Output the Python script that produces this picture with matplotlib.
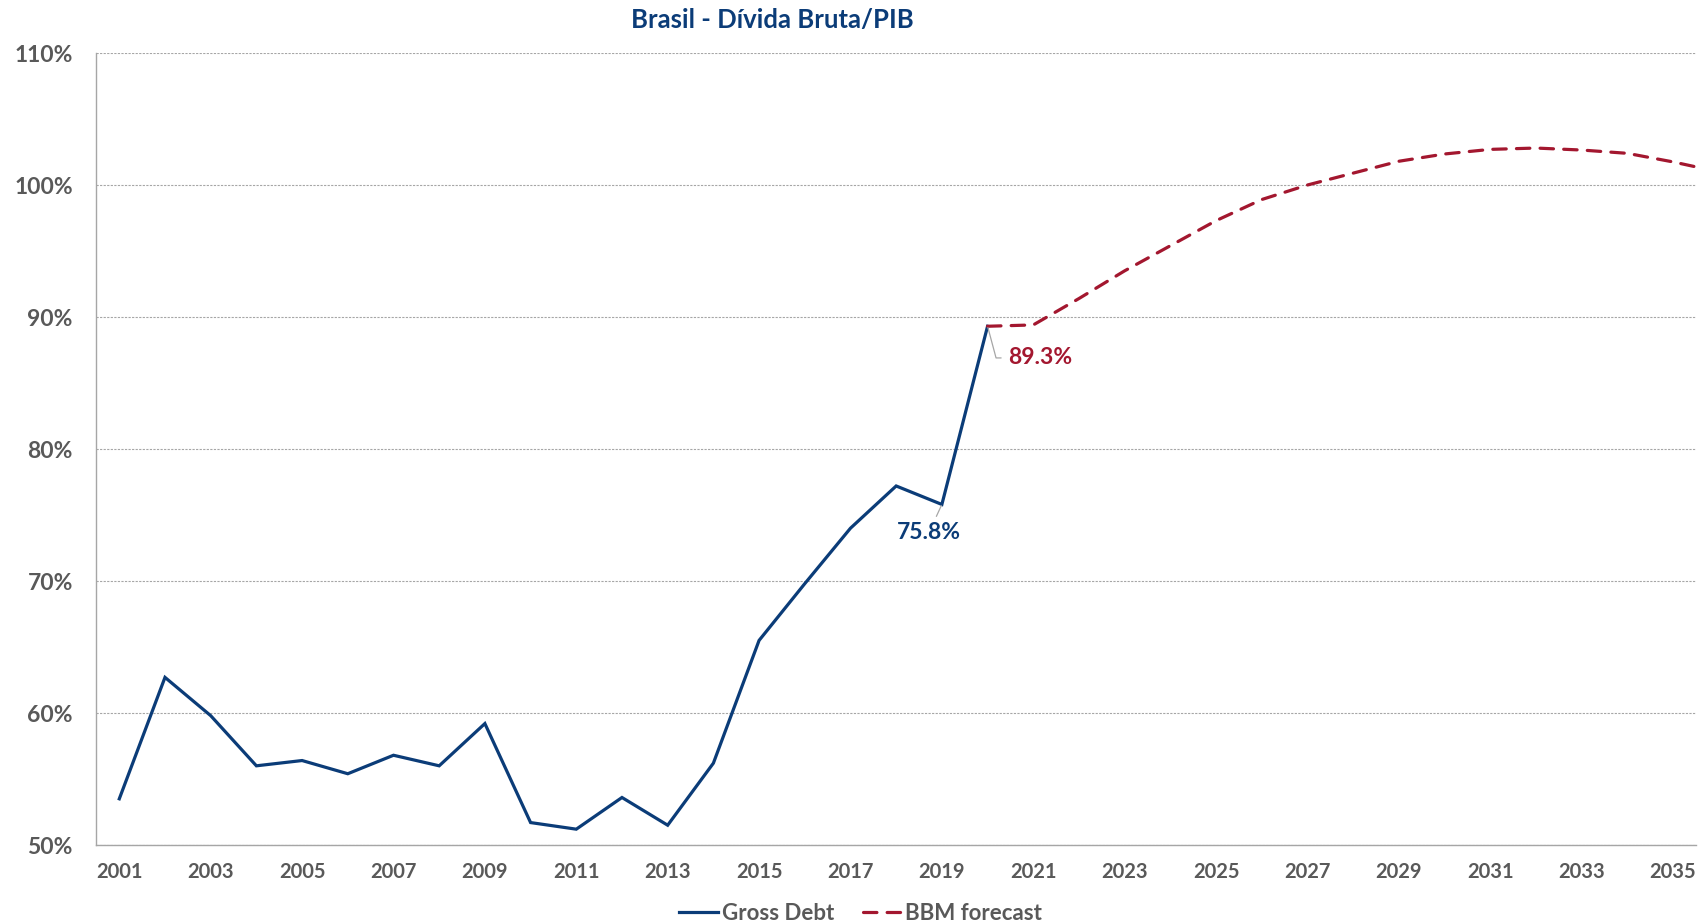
import matplotlib
matplotlib.use("Agg")
import matplotlib.pyplot as plt
from matplotlib.ticker import FuncFormatter

plt.rcParams['font.family'] = ['Lato', 'DejaVu Sans']

# ---- data ----
hist_years = list(range(2001, 2021))
gross_debt = [53.5, 62.7, 59.8, 56.0, 56.4, 55.4, 56.8, 56.0, 59.2, 51.7,
              51.2, 53.6, 51.5, 56.2, 65.5, 69.8, 74.0, 77.2, 75.8, 89.3]
fc_years = list(range(2020, 2037))
bbm_forecast = [89.3, 89.4, 91.4, 93.5, 95.4, 97.3, 98.9, 100.0, 100.9, 101.8,
                102.35, 102.7, 102.8, 102.65, 102.4, 101.75, 101.0]
xtick_years = list(range(2001, 2036, 2))
ytick_vals = [50, 60, 70, 80, 90, 100, 110]
title = "Brasil - Dívida Bruta/PIB"

BLUE = "#0B3C78"
RED = "#A3172F"
GREY_TXT = "#595959"

fig = plt.figure(figsize=(17.01, 9.22), dpi=100)
ax = fig.add_axes([0.0567, 0.0835, 0.9403, 0.859])

ax.plot(hist_years, gross_debt, color=BLUE, lw=2.3, label="Gross Debt",
        solid_joinstyle='miter', zorder=3)
ax.plot(fc_years, bbm_forecast, color=RED, lw=2.3, dashes=(4.2, 3.2),
        label="BBM forecast", dash_capstyle='round', zorder=3)

ax.set_xlim(2000.5, 2035.5)
ax.set_ylim(50, 110)
ax.set_xticks(xtick_years)
ax.set_yticks(ytick_vals)
ax.yaxis.set_major_formatter(FuncFormatter(lambda v, p: f"{v:.0f}%"))
ax.tick_params(axis='both', length=0, colors=GREY_TXT)
ax.tick_params(axis='x', labelsize=14.5, pad=12)
ax.tick_params(axis='y', labelsize=16.5, pad=17)
for lbl in ax.get_xticklabels() + ax.get_yticklabels():
    lbl.set_fontweight('bold')

ax.grid(axis='y', color='#A6A6A6', lw=0.8, linestyle=(0, (2.0, 1.2)))
ax.set_axisbelow(True)
for s in ['top', 'right']:
    ax.spines[s].set_visible(False)
for s in ['left', 'bottom']:
    ax.spines[s].set_color('#A6A6A6')
    ax.spines[s].set_linewidth(1.0)

fig.text(0.4538, 0.978, title, ha='center', va='center',
         fontsize=18.5, fontweight='bold', color=BLUE)

# data labels
ax.annotate(f"{gross_debt[-2]:.1f}%", xy=(hist_years[-2], gross_debt[-2]),
            xytext=(2018.72, 73.7), ha='center', va='center',
            fontsize=16.5, fontweight='bold', color=BLUE,
            arrowprops=dict(arrowstyle='-', color='#A6A6A6', lw=0.9,
                            shrinkA=2, shrinkB=1))
ax.annotate(f"{bbm_forecast[0]:.1f}%", xy=(fc_years[0], bbm_forecast[0]),
            xytext=(2021.15, 86.9), ha='center', va='center',
            fontsize=16.5, fontweight='bold', color=RED,
            arrowprops=dict(arrowstyle='-', color='#A6A6A6', lw=0.9,
                            shrinkA=3, shrinkB=1,
                            connectionstyle='angle,angleA=0,angleB=-75,rad=0'))

leg = fig.legend(loc='center', bbox_to_anchor=(0.506, 0.009), ncol=2,
                 frameon=False, prop={'size': 16, 'weight': 'bold'},
                 handlelength=1.75, columnspacing=1.3, handletextpad=0.15,
                 borderpad=0, borderaxespad=0)
for t in leg.get_texts():
    t.set_color(GREY_TXT)

fig.savefig("out.png", dpi=100)
